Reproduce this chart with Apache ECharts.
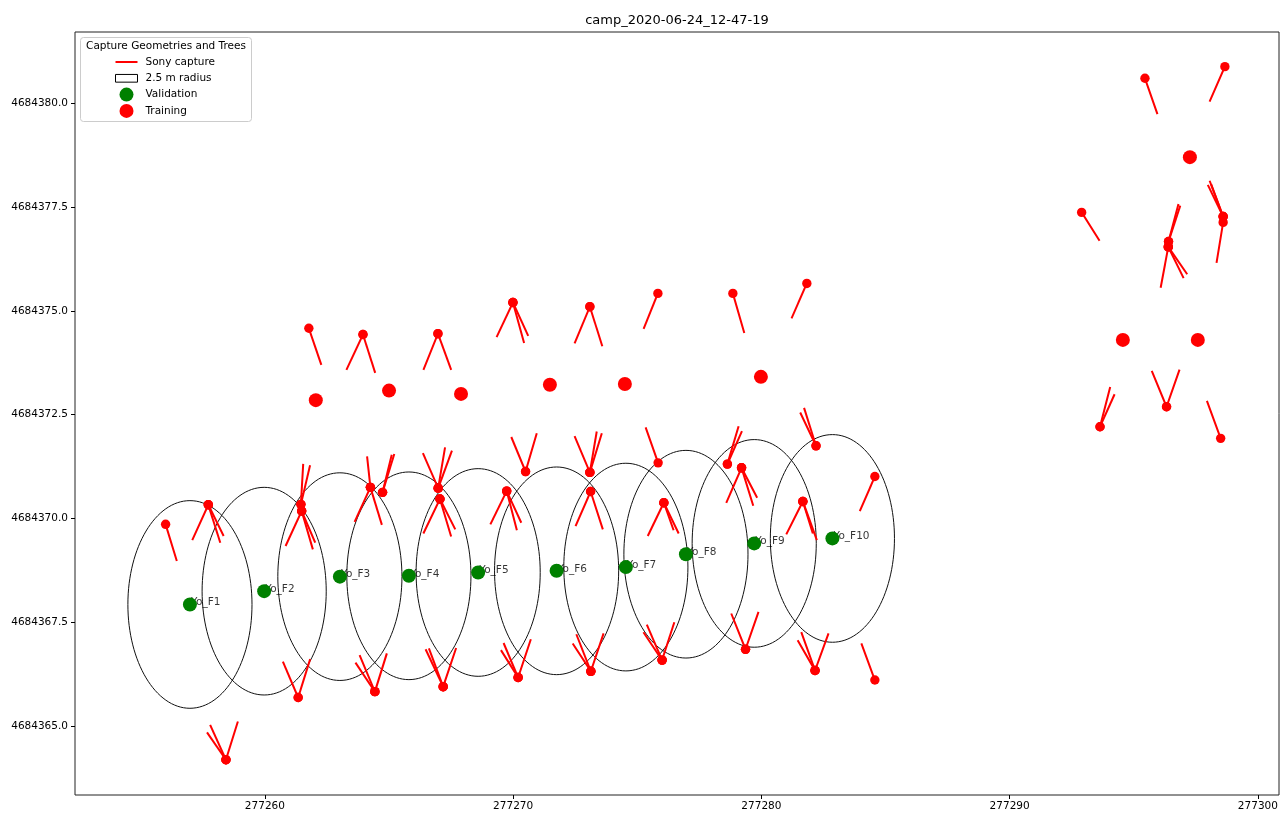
<!DOCTYPE html>
<html>
<head>
<meta charset="utf-8">
<title>camp_2020-06-24_12-47-19</title>
<script src="https://cdn.jsdelivr.net/npm/echarts@6/dist/echarts.min.js"></script>
<style>
  html, body { margin: 0; padding: 0; background: #ffffff; }
  #chart { width: 1282px; height: 815px; }
</style>
</head>
<body>
<div id="chart"></div>
<script>
// Axis ticks (UTM easting / northing, metres)
const xTicks = [277260, 277270, 277280, 277290, 277300];
const yTicks = [4684365.0, 4684367.5, 4684370.0, 4684372.5, 4684375.0, 4684377.5, 4684380.0];

// Validation trees, each with its plot circle
const validationNames = ['Yo_F1', 'Yo_F2', 'Yo_F3', 'Yo_F4', 'Yo_F5', 'Yo_F6', 'Yo_F7', 'Yo_F8', 'Yo_F9', 'Yo_F10'];
const validationEasting = [277256.98, 277259.97, 277263.02, 277265.80, 277268.59, 277271.75, 277274.54, 277276.96, 277279.71, 277282.86];
const validationNorthing = [4684367.93, 4684368.25, 4684368.60, 4684368.62, 4684368.70, 4684368.74, 4684368.83, 4684369.14, 4684369.40, 4684369.52];
const plotRadius = 2.5;

// Training trees
const trainingEasting = [277262.05, 277265.00, 277267.90, 277271.48, 277274.50, 277279.98, 277297.26, 277294.56, 277297.58];
const trainingNorthing = [4684372.85, 4684373.08, 4684373.00, 4684373.22, 4684373.24, 4684373.41, 4684378.70, 4684374.30, 4684374.30];

// Sony captures: [camera easting, camera northing, view-end easting, view-end northing]
const captureSegments = [
  // south row
  [277258.43, 4684364.19, 277257.69, 4684364.83],
  [277258.43, 4684364.19, 277257.81, 4684365.01],
  [277258.43, 4684364.19, 277258.90, 4684365.09],
  [277261.34, 4684365.69, 277260.74, 4684366.53],
  [277261.34, 4684365.69, 277261.81, 4684366.59],
  [277264.43, 4684365.83, 277263.67, 4684366.51],
  [277264.43, 4684365.83, 277263.83, 4684366.69],
  [277264.43, 4684365.83, 277264.90, 4684366.73],
  [277267.18, 4684365.95, 277266.49, 4684366.83],
  [277267.18, 4684365.95, 277266.62, 4684366.85],
  [277267.18, 4684365.95, 277267.69, 4684366.86],
  [277270.20, 4684366.17, 277269.53, 4684366.81],
  [277270.20, 4684366.17, 277269.63, 4684366.98],
  [277270.20, 4684366.17, 277270.70, 4684367.07],
  [277273.13, 4684366.32, 277272.42, 4684366.97],
  [277273.13, 4684366.32, 277272.56, 4684367.19],
  [277273.13, 4684366.32, 277273.63, 4684367.21],
  [277276.00, 4684366.59, 277275.27, 4684367.24],
  [277276.00, 4684366.59, 277275.40, 4684367.42],
  [277276.00, 4684366.59, 277276.48, 4684367.48],
  [277279.36, 4684366.85, 277278.80, 4684367.69],
  [277279.36, 4684366.85, 277279.87, 4684367.73],
  [277282.16, 4684366.34, 277281.48, 4684367.05],
  [277282.16, 4684366.34, 277281.62, 4684367.24],
  [277282.16, 4684366.34, 277282.69, 4684367.21],
  [277284.57, 4684366.11, 277284.04, 4684366.97],
  // middle row, along the validation plots
  [277256.00, 4684369.86, 277256.44, 4684369.00],
  [277257.72, 4684370.33, 277257.09, 4684369.50],
  [277257.72, 4684370.33, 277258.19, 4684369.44],
  [277257.72, 4684370.33, 277258.32, 4684369.60],
  [277261.45, 4684370.34, 277261.54, 4684371.29],
  [277261.45, 4684370.34, 277261.81, 4684371.26],
  [277261.48, 4684370.18, 277260.85, 4684369.36],
  [277261.48, 4684370.18, 277261.92, 4684369.28],
  [277261.48, 4684370.18, 277262.01, 4684369.44],
  [277264.25, 4684370.75, 277264.12, 4684371.47],
  [277264.25, 4684370.75, 277263.63, 4684369.94],
  [277264.25, 4684370.75, 277264.70, 4684369.87],
  [277264.74, 4684370.63, 277265.20, 4684371.53],
  [277264.74, 4684370.63, 277265.10, 4684371.51],
  [277266.98, 4684370.73, 277266.38, 4684371.55],
  [277266.98, 4684370.73, 277267.25, 4684371.69],
  [277266.98, 4684370.73, 277267.52, 4684371.61],
  [277267.05, 4684370.47, 277266.40, 4684369.66],
  [277267.05, 4684370.47, 277267.49, 4684369.59],
  [277267.05, 4684370.47, 277267.65, 4684369.76],
  [277270.50, 4684371.13, 277269.94, 4684371.94],
  [277270.50, 4684371.13, 277270.94, 4684372.03],
  [277269.74, 4684370.66, 277269.10, 4684369.88],
  [277269.74, 4684370.66, 277270.14, 4684369.74],
  [277269.74, 4684370.66, 277270.31, 4684369.92],
  [277273.09, 4684371.11, 277272.49, 4684371.96],
  [277273.09, 4684371.11, 277273.36, 4684372.07],
  [277273.09, 4684371.11, 277273.56, 4684372.03],
  [277273.12, 4684370.65, 277272.53, 4684369.84],
  [277273.12, 4684370.65, 277273.60, 4684369.76],
  [277275.84, 4684371.34, 277275.35, 4684372.17],
  [277276.07, 4684370.38, 277275.44, 4684369.60],
  [277276.07, 4684370.38, 277276.45, 4684369.74],
  [277276.07, 4684370.38, 277276.65, 4684369.66],
  [277278.63, 4684371.31, 277279.07, 4684372.20],
  [277278.63, 4684371.31, 277279.20, 4684372.08],
  [277279.20, 4684371.22, 277278.60, 4684370.40],
  [277279.20, 4684371.22, 277279.66, 4684370.33],
  [277279.20, 4684371.22, 277279.81, 4684370.52],
  [277282.20, 4684371.75, 277281.58, 4684372.53],
  [277282.20, 4684371.75, 277281.73, 4684372.64],
  [277281.67, 4684370.41, 277281.02, 4684369.64],
  [277281.67, 4684370.41, 277282.06, 4684369.66],
  [277281.67, 4684370.41, 277282.22, 4684369.50],
  [277284.57, 4684371.01, 277283.98, 4684370.20],
  // north row
  [277261.77, 4684374.58, 277262.26, 4684373.72],
  [277263.95, 4684374.43, 277263.30, 4684373.60],
  [277263.95, 4684374.43, 277264.43, 4684373.53],
  [277266.97, 4684374.45, 277266.40, 4684373.60],
  [277266.97, 4684374.45, 277267.49, 4684373.60],
  [277269.99, 4684375.20, 277269.35, 4684374.39],
  [277269.99, 4684375.20, 277270.43, 4684374.25],
  [277269.99, 4684375.20, 277270.59, 4684374.42],
  [277273.09, 4684375.10, 277272.49, 4684374.24],
  [277273.09, 4684375.10, 277273.58, 4684374.17],
  [277275.83, 4684375.42, 277275.27, 4684374.59],
  [277278.85, 4684375.42, 277279.30, 4684374.49],
  [277281.83, 4684375.66, 277281.23, 4684374.84],
  // east group
  [277295.45, 4684380.60, 277295.94, 4684379.76],
  [277298.67, 4684380.88, 277298.07, 4684380.06],
  [277292.90, 4684377.37, 277293.60, 4684376.71],
  [277296.40, 4684376.67, 277296.79, 4684377.55],
  [277296.40, 4684376.67, 277296.86, 4684377.51],
  [277296.39, 4684376.54, 277296.09, 4684375.58],
  [277296.39, 4684376.54, 277297.13, 4684375.90],
  [277296.39, 4684376.54, 277296.99, 4684375.81],
  [277298.60, 4684377.27, 277298.07, 4684378.11],
  [277298.60, 4684377.27, 277298.13, 4684378.03],
  [277298.60, 4684377.27, 277298.00, 4684378.01],
  [277298.60, 4684377.13, 277298.34, 4684376.18],
  [277293.64, 4684372.21, 277294.04, 4684373.14],
  [277293.64, 4684372.21, 277294.21, 4684372.97],
  [277296.32, 4684372.69, 277295.74, 4684373.53],
  [277296.32, 4684372.69, 277296.83, 4684373.56],
  [277298.50, 4684371.93, 277297.96, 4684372.81]
];

const FONT = 'DejaVu Sans';
const RED = '#ff0000';
const GREEN = '#008000';

const validationData = validationEasting.map((x, i) => [x, validationNorthing[i], validationNames[i]]);
const trainingData = trainingEasting.map((x, i) => [x, trainingNorthing[i]]);

const chart = echarts.init(document.getElementById('chart'), null, { renderer: 'canvas' });

chart.setOption({
  animation: false,
  backgroundColor: '#ffffff',
  title: {
    text: 'camp_2020-06-24_12-47-19',
    left: 677,
    top: 14,
    textAlign: 'center',
    padding: 0,
    textStyle: { fontFamily: FONT, fontSize: 13, fontWeight: 'normal', color: '#000' }
  },
  grid: {
    left: 75, right: 3, top: 32, bottom: 20,
    show: true, borderColor: '#222', borderWidth: 1, backgroundColor: 'transparent'
  },
  xAxis: {
    type: 'value',
    min: 277252.35,
    max: 277300.85,
    axisLine: { show: false },
    splitLine: { show: false },
    axisTick: { show: true, length: 4, lineStyle: { color: '#000', width: 1 }, customValues: xTicks },
    axisLabel: {
      customValues: xTicks, margin: 6, fontFamily: FONT, fontSize: 10.5, color: '#000',
      formatter: v => String(Math.round(v))
    }
  },
  yAxis: {
    type: 'value',
    min: 4684363.342,
    max: 4684381.714,
    axisLine: { show: false },
    splitLine: { show: false },
    axisTick: { show: true, length: 4, lineStyle: { color: '#000', width: 1 }, customValues: yTicks },
    axisLabel: {
      customValues: yTicks, margin: 7, fontFamily: FONT, fontSize: 10.5, color: '#000',
      formatter: v => Number(v).toFixed(1)
    }
  },
  legend: {
    orient: 'vertical',
    left: 115,
    top: 55,
    z: 10,
    padding: 0,
    itemWidth: 22,
    itemHeight: 14,
    itemGap: 2.3,
    selectedMode: false,
    textStyle: { fontFamily: FONT, fontSize: 10.5, color: '#000', lineHeight: 14, padding: [0, 0, 0, 3] },
    data: [
      { name: 'Sony capture', icon: 'path://M0,0L22,0L22,2L0,2Z', itemStyle: { color: RED, borderWidth: 0, opacity: 1 } },
      { name: '2.5 m radius', icon: 'path://M0,0L20,0L20,7L0,7Z', itemStyle: { color: '#ffffff', borderColor: '#000', borderWidth: 1, opacity: 1 } },
      { name: 'Validation', icon: 'circle', itemStyle: { color: GREEN, borderWidth: 0, opacity: 1 } },
      { name: 'Training', icon: 'circle', itemStyle: { color: RED, borderWidth: 0, opacity: 1 } }
    ]
  },
  graphic: [
    {
      type: 'rect',
      z: 9,
      shape: { x: 80.5, y: 37.5, width: 171, height: 84, r: 3 },
      style: { fill: 'rgba(255,255,255,0.8)', stroke: '#cccccc', lineWidth: 1 }
    },
    {
      type: 'text',
      z: 10,
      x: 166,
      y: 46,
      style: {
        text: 'Capture Geometries and Trees',
        fontFamily: FONT, fontSize: 10.5, fill: '#000',
        align: 'center', verticalAlign: 'middle'
      }
    }
  ],
  series: [
    {
      name: '2.5 m radius',
      type: 'custom',
      z: 1,
      silent: true,
      itemStyle: { color: '#ffffff', borderColor: '#000' },
      encode: { x: 0, y: 1 },
      data: validationData.map(d => [d[0], d[1]]),
      renderItem: (params, api) => {
        const x = api.value(0), y = api.value(1);
        const c = api.coord([x, y]);
        const s = api.size([plotRadius, plotRadius], [x, y]);
        return {
          type: 'ellipse',
          shape: { cx: c[0], cy: c[1], rx: s[0], ry: s[1] },
          style: { fill: null, stroke: '#111', lineWidth: 1 }
        };
      }
    },
    {
      name: 'Sony capture',
      type: 'custom',
      z: 2,
      silent: true,
      itemStyle: { color: RED },
      encode: { x: [0, 2], y: [1, 3] },
      data: captureSegments,
      renderItem: (params, api) => {
        const a = api.coord([api.value(0), api.value(1)]);
        const b = api.coord([api.value(2), api.value(3)]);
        return {
          type: 'group',
          children: [
            { type: 'line', shape: { x1: a[0], y1: a[1], x2: b[0], y2: b[1] },
              style: { stroke: RED, lineWidth: 2, lineCap: 'square' } },
            { type: 'circle', shape: { cx: a[0], cy: a[1], r: 4.7 }, style: { fill: RED } }
          ]
        };
      }
    },
    {
      name: 'Training',
      type: 'scatter',
      z: 3,
      silent: true,
      symbol: 'circle',
      symbolSize: 14,
      itemStyle: { color: RED, opacity: 1 },
      data: trainingData
    },
    {
      name: 'plot labels',
      type: 'scatter',
      z: 3,
      silent: true,
      symbolSize: 0,
      data: validationData,
      label: {
        show: true,
        position: [1, 3.5],
        align: 'left',
        verticalAlign: 'bottom',
        fontFamily: FONT, fontSize: 10.5, color: '#000',
        formatter: p => p.data[2]
      }
    },
    {
      name: 'Validation',
      type: 'scatter',
      z: 4,
      silent: true,
      symbol: 'circle',
      symbolSize: 14,
      itemStyle: { color: GREEN, opacity: 1 },
      data: validationData.map(d => [d[0], d[1]])
    }
  ]
});
</script>
</body>
</html>
